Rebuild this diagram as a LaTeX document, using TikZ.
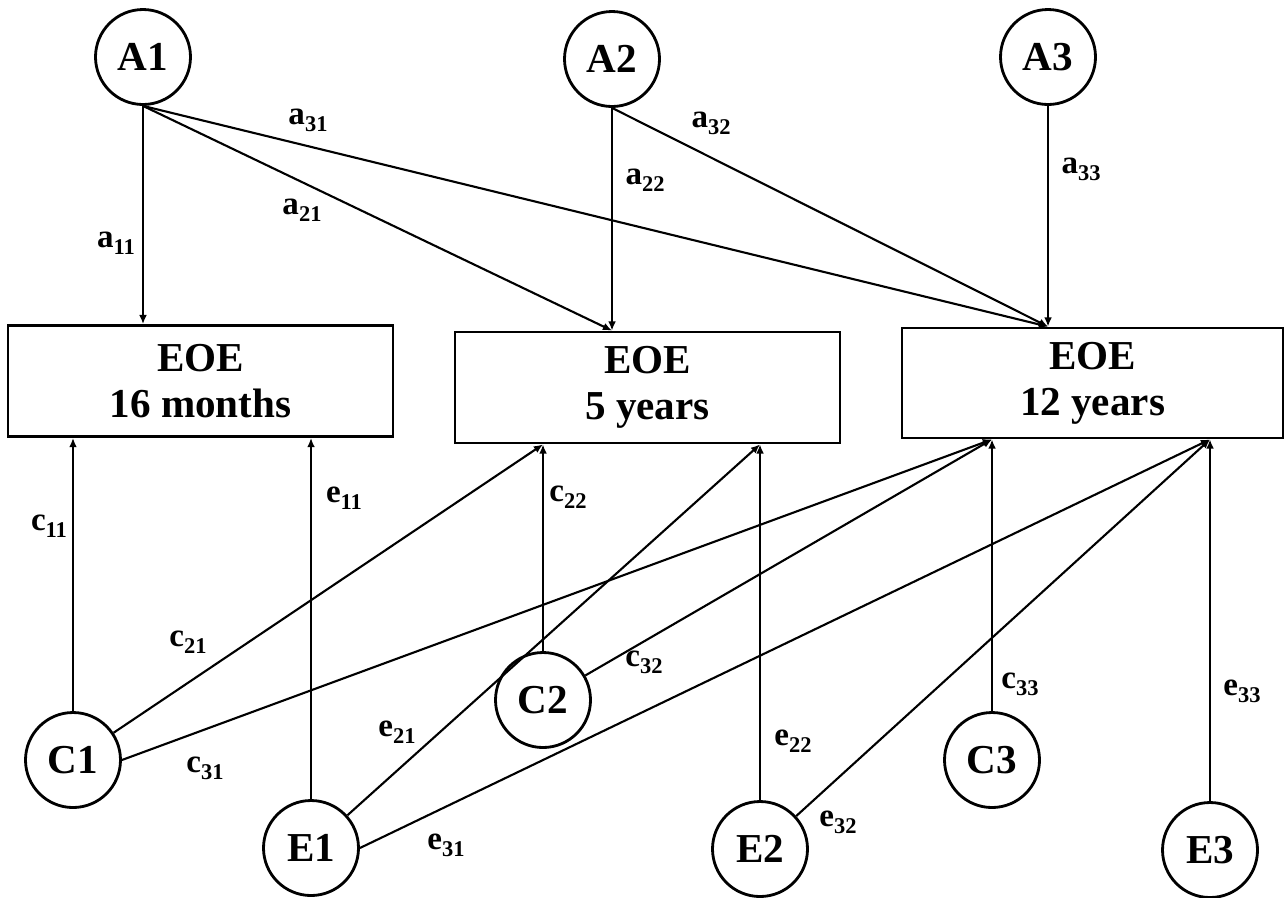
\documentclass[tikz,border=0pt]{standalone}
\usepackage{amsmath}
\usepackage{fontspec}
\setmainfont{Liberation Serif}
\usepackage{tikz}
\usetikzlibrary{arrows.meta,calc,positioning}

\newcommand{\coef}[2]{#1\raisebox{-0.22em}{\fontsize{6.4}{7}\selectfont #2}}

\begin{document}
\begin{tikzpicture}[>={Latex[length=2.6pt,width=2.2pt]},
    latent/.style={draw,circle,line width=0.8pt,minimum size=0.95cm,inner sep=0pt,
      font=\fontsize{11.7}{13}\selectfont\bfseries},
    obs/.style={draw,rectangle,line width=0.8pt,minimum width=3.85cm,minimum height=1.11cm,
      align=center,font=\fontsize{11.7}{13.1}\selectfont\bfseries},
    link/.style={->,line width=0.6pt},
    lbl/.style={font=\fontsize{9.4}{11}\selectfont\bfseries,inner sep=0pt}]
    \useasboundingbox (0,0) rectangle (12.85,-8.97);

    % genetic factors
    \node[latent] (a1) at (1.43,-0.57) {A1};
    \node[latent] (a2) at (6.12,-0.59) {A2};
    \node[latent] (a3) at (10.48,-0.57) {A3};

    % measured EOE
    \node[obs] (b1) at (2.005,-3.81) {EOE\\16 months};
    \node[obs] (b2) at (6.475,-3.875) {EOE\\5 years};
    \node[obs,minimum width=3.81cm,minimum height=1.10cm] (b3) at (10.925,-3.83) {EOE\\12 years};

    % shared and unique environment
    \node[latent] (c1) at (0.73,-7.60) {C1};
    \node[latent] (e1) at (3.11,-8.48) {E1};
    \node[latent] (c2) at (5.43,-7.00) {C2};
    \node[latent] (e2) at (7.60,-8.49) {E2};
    \node[latent] (c3) at (9.92,-7.60) {C3};
    \node[latent] (e3) at (12.10,-8.50) {E3};

    \draw[link] (a1) -- (b1.north -| a1);
    \draw[link] (a1.south) -- (b2.north -| a2);
    \draw[link] (a1.south) -- (b3.north -| a3);
    \draw[link] (a2) -- (b2.north -| a2);
    \draw[link] (a2.south) -- (b3.north -| a3);
    \draw[link] (a3) -- (b3.north -| a3);

    \draw[link] (c1) -- (b1.south -| c1);
    \draw[link] (e1) -- (b1.south -| e1);
    \draw[link] (c1) -- (b2.south -| c2);
    \draw[link] (c2) -- (b2.south -| c2);
    \draw[link] (e1) -- (b2.south -| e2);
    \draw[link] (e2) -- (b2.south -| e2);
    \draw[link] (c1.east) -- (b3.south -| c3);
    \draw[link] (c2) -- (b3.south -| c3);
    \draw[link] (c3) -- (b3.south -| c3);
    \draw[link] (e1.east) -- (b3.south -| e3);
    \draw[link] (e2) -- (b3.south -| e3);
    \draw[link] (e3) -- (b3.south -| e3);

    % path coefficients
    \node[lbl] (la11) at (1.16,-2.43) {\coef{a}{11}};
    \node[lbl] (la21) at (3.02,-2.10) {\coef{a}{21}};
    \node[lbl] (la31) at (3.08,-1.20) {\coef{a}{31}};
    \node[lbl] (la22) at (6.45,-1.80) {\coef{a}{22}};
    \node[lbl] (la32) at (7.11,-1.23) {\coef{a}{32}};
    \node[lbl] (la33) at (10.81,-1.69) {\coef{a}{33}};
    \node[lbl] (lc11) at (0.49,-5.26) {\coef{c}{11}};
    \node[lbl] (le11) at (3.44,-4.98) {\coef{e}{11}};
    \node[lbl] (lc21) at (1.88,-6.42) {\coef{c}{21}};
    \node[lbl] (lc31) at (2.05,-7.68) {\coef{c}{31}};
    \node[lbl] (le21) at (3.97,-7.32) {\coef{e}{21}};
    \node[lbl] (le31) at (4.46,-8.45) {\coef{e}{31}};
    \node[lbl] (lc22) at (5.68,-4.97) {\coef{c}{22}};
    \node[lbl] (lc32) at (6.44,-6.62) {\coef{c}{32}};
    \node[lbl] (le22) at (7.93,-7.41) {\coef{e}{22}};
    \node[lbl] (le32) at (8.38,-8.22) {\coef{e}{32}};
    \node[lbl] (lc33) at (10.20,-6.84) {\coef{c}{33}};
    \node[lbl] (le33) at (12.42,-6.91) {\coef{e}{33}};
  \end{tikzpicture}
\end{document}
